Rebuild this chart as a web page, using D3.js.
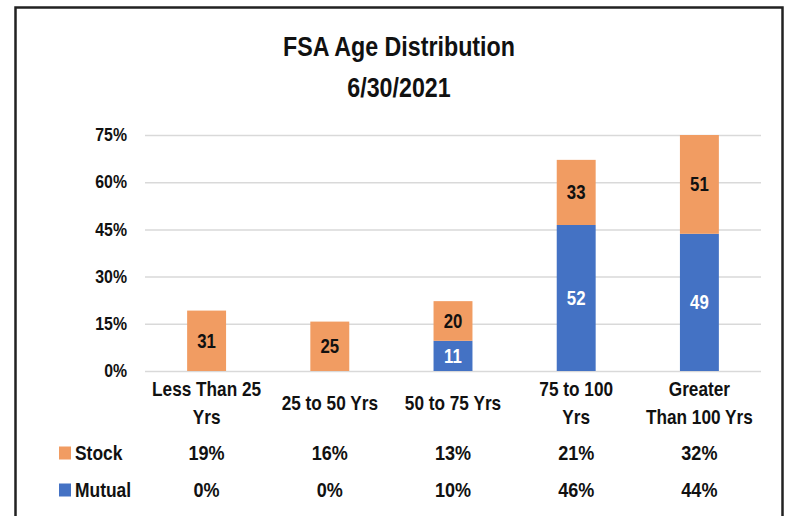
<!DOCTYPE html>
<html>
<head>
<meta charset="utf-8">
<script src="https://cdn.jsdelivr.net/npm/d3@7"></script>
<style>
  body { margin: 0; background: #fff; }
  svg text { font-family: "Liberation Sans", Arial, sans-serif; font-weight: bold; fill: #111; }
</style>
</head>
<body>
<svg id="chart"></svg>
<script>
// chart data
let categories = ["Less Than 25 Yrs", "25 to 50 Yrs", "50 to 75 Yrs", "75 to 100 Yrs", "Greater Than 100 Yrs"]
let categoryLines = [["Less Than 25", "Yrs"], ["25 to 50 Yrs"], ["50 to 75 Yrs"], ["75 to 100", "Yrs"], ["Greater", "Than 100 Yrs"]]
let stockPct = [0.192, 0.157, 0.126, 0.207, 0.321]
let mutualPct = [0, 0, 0.096, 0.464, 0.436]
let stockCount = [31, 25, 20, 33, 51]
let mutualCount = [0, 0, 11, 52, 49]
let yTicks = [0, 0.15, 0.30, 0.45, 0.60, 0.75]
let titleLines = ["FSA Age Distribution", "6/30/2021"]

let width = 787
let height = 516
let plot = {left: 145, right: 761, top: 135, bottom: 371}

let stockColor = "#f19c62"
let mutualColor = "#4472c4"

// no narrow font installed, so squeeze text horizontally around its anchor
function narrow(selection, k) {
    selection.each(function() {
        let x = this.getAttribute("x")
        if (x == null) {
            let t = this.querySelector("tspan")
            x = t ? t.getAttribute("x") : 0
        }
        x = +x || 0
        d3.select(this).attr("transform", "translate(" + x + ",0) scale(" + k + ",1) translate(" + (-x) + ",0)")
    })
}

let svg = d3.select("#chart")
    .attr("width", width)
    .attr("height", height)

// outer frame
svg.append("rect")
    .attr("x", 15.5)
    .attr("y", 7.5)
    .attr("width", 767)
    .attr("height", 520)
    .attr("fill", "none")
    .attr("stroke", "#222")
    .attr("stroke-width", 2.5)

svg.selectAll(".title")
    .data(titleLines)
    .enter()
    .append("text")
    .attr("class", "title")
    .text(d => d)
    .attr("x", 399)
    .attr("y", (d, i) => 56 + i * 41)
    .attr("text-anchor", "middle")
    .attr("font-size", 28)
    .call(narrow, 0.83)

let xScale = d3.scaleBand()
    .domain(categories)
    .range([plot.left, plot.right])
    .paddingInner(0.684)
    .paddingOuter(0.342)

let yScale = d3.scaleLinear()
    .domain([0, 0.75])
    .range([plot.bottom, plot.top])

// y axis with gridlines
let yAxis = svg.append("g")
    .attr("transform", "translate(" + plot.left + ",0)")
    .call(d3.axisLeft(yScale)
        .tickValues(yTicks)
        .tickSize(-(plot.right - plot.left))
        .tickPadding(18)
        .tickFormat(d3.format(".0%")))

yAxis.select(".domain").remove()
yAxis.selectAll("line")
    .attr("stroke", "#d9d9d9")
    .attr("stroke-width", 1.5)
yAxis.selectAll("text")
    .attr("font-size", 18)
    .attr("fill", "#111")
    .attr("font-family", null)
    .call(narrow, 0.88)

svg.append("clipPath")
    .attr("id", "plot_clip")
    .append("rect")
    .attr("x", plot.left)
    .attr("y", plot.top)
    .attr("width", plot.right - plot.left)
    .attr("height", plot.bottom - plot.top)

let bars = svg.append("g").attr("clip-path", "url(#plot_clip)")

// mutual at bottom
bars.selectAll(".mutual")
    .data(categories)
    .enter()
    .append("rect")
    .attr("class", "mutual")
    .attr("x", d => xScale(d))
    .attr("width", xScale.bandwidth())
    .attr("y", (d, i) => yScale(mutualPct[i]))
    .attr("height", (d, i) => yScale(0) - yScale(mutualPct[i]))
    .attr("fill", mutualColor)

bars.selectAll(".stock")
    .data(categories)
    .enter()
    .append("rect")
    .attr("class", "stock")
    .attr("x", d => xScale(d))
    .attr("width", xScale.bandwidth())
    .attr("y", (d, i) => yScale(mutualPct[i] + stockPct[i]))
    .attr("height", (d, i) => yScale(mutualPct[i]) - yScale(mutualPct[i] + stockPct[i]))
    .attr("fill", stockColor)

let center = d => xScale(d) + xScale.bandwidth() / 2

// labels in the middle of the visible part of each segment
function midY(lo, hi) {
    let top = Math.min(hi, 0.75)
    return (yScale(lo) + yScale(top)) / 2
}

svg.selectAll(".mutual_label")
    .data(categories)
    .enter()
    .filter((d, i) => mutualCount[i] > 0)
    .append("text")
    .attr("class", "mutual_label")
    .text(d => mutualCount[categories.indexOf(d)])
    .attr("x", center)
    .attr("y", d => { let i = categories.indexOf(d); return midY(0, mutualPct[i]) })
    .attr("dy", "0.35em")
    .attr("text-anchor", "middle")
    .attr("font-size", 20)
    .style("fill", "#fff")
    .call(narrow, 0.84)

svg.selectAll(".stock_label")
    .data(categories)
    .enter()
    .append("text")
    .attr("class", "stock_label")
    .text((d, i) => stockCount[i])
    .attr("x", center)
    .attr("y", (d, i) => midY(mutualPct[i], mutualPct[i] + stockPct[i]))
    .attr("dy", "0.35em")
    .attr("text-anchor", "middle")
    .attr("font-size", 20)
    .call(narrow, 0.84)

// category labels under the axis
svg.selectAll(".cat_label")
    .data(categories)
    .enter()
    .append("text")
    .attr("class", "cat_label")
    .attr("text-anchor", "middle")
    .attr("font-size", 20.5)
    .each(function(d, i) {
        let lines = categoryLines[i]
        let startY = lines.length == 1 ? 403 : 389
        d3.select(this).selectAll("tspan")
            .data(lines)
            .enter()
            .append("tspan")
            .text(t => t)
            .attr("x", center(d))
            .attr("y", (t, j) => startY + j * 28)
            .attr("dy", "0.35em")
    })
    .call(narrow, 0.84)

// data table rows
let rows = [
    {name: "Stock", color: stockColor, values: stockPct, y: 453},
    {name: "Mutual", color: mutualColor, values: mutualPct, y: 490}
]

let fmt = d3.format(".0%")

rows.forEach(function(r) {
    svg.append("rect")
        .attr("x", 59)
        .attr("y", r.y - 6.5)
        .attr("width", 12)
        .attr("height", 13)
        .attr("fill", r.color)

    svg.append("text")
        .text(r.name)
        .attr("x", 75)
        .attr("y", r.y)
        .attr("dy", "0.35em")
        .attr("font-size", 21)
        .call(narrow, 0.83)

    svg.selectAll(".row_" + r.name)
        .data(categories)
        .enter()
        .append("text")
        .text((d, i) => fmt(r.values[i]))
        .attr("x", center)
        .attr("y", r.y)
        .attr("dy", "0.35em")
        .attr("text-anchor", "middle")
        .attr("font-size", 21)
        .call(narrow, 0.86)
})
</script>
</body>
</html>
